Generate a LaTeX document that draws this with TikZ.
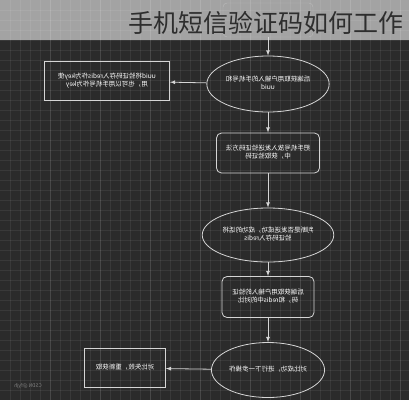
\documentclass[tikz,border=0pt]{standalone}
\usepackage{fontspec}
\setmainfont{Noto Sans CJK SC}
\usetikzlibrary{shapes.geometric}
\definecolor{fond}{HTML}{2B2B2B}
\definecolor{bandeau}{HTML}{A3A3A3}
\definecolor{trait}{HTML}{D6D6D6}
\definecolor{titre}{HTML}{2E2E2E}
\newcommand{\miroir}[1]{\reflectbox{\begin{tabular}{@{}c@{}}#1\end{tabular}}}

\begin{document}
\begin{tikzpicture}[x=1pt,y=-1pt]
  \tikzstyle{lien}=[->,>=latex,draw=trait,line width=0.8pt]
\tikzset{etape/.style={draw=trait,line width=0.8pt,text=white,
font=\fontsize{6.5}{8}\selectfont,inner sep=1pt,minimum width=#1,minimum height=40pt},
etape/.default={100pt},
test/.style={etape=#1,ellipse,minimum height=56pt},
arrondi/.style={etape=#1,rounded corners=5pt}}
\useasboundingbox (0,0) rectangle (409,400);
\fill[bandeau] (0,0) rectangle (409,40);
\fill[fond] (0,40) rectangle (409,400);
\foreach \x in {10,20,...,400} \draw[white,opacity=0.07] (\x,0) -- (\x,400);
\foreach \y in {10,20,...,400} \draw[white,opacity=0.07] (0,\y) -- (409,\y);
\foreach \x in {50,100,...,400} \draw[white,opacity=0.08] (\x,0) -- (\x,400);

\node[draw=bandeau!75!white,rounded corners=4pt,minimum width=90pt,minimum height=34pt] (debut) at (268,20){};
\node[anchor=base west,font=\fontsize{25}{25}\selectfont,text=titre,inner sep=0pt] (titre) at (128,32){手机短信验证码如何工作};

\node[test=110pt] (E1) at (268,84){\miroir{后端获取用户输入的手机号和\\uuid}};
\node[etape=125pt,minimum height=39pt] (R1) at (107,81){\miroir{uuid将验证码存入redis作为key使\\用，也可以用手机号作为key}};
\node[arrondi=103pt] (R2) at (268,153){\miroir{把手机号放入发送验证码方法\\中，获取验证码}};
\node[test=108pt,minimum height=54pt] (E3) at (268,235){\miroir{判断是否发送成功，成功的话将\\验证码存入redis}};
\node[arrondi=92pt,minimum height=41pt] (R4) at (268,297){\miroir{后端获取用户输入的验证\\码，和redis中的对比}};
\node[test=94pt,minimum height=55pt] (E5) at (268,370){\miroir{对比成功，进行下一步操作}};
\node[etape=81pt,minimum height=39pt] (R6) at (125,368){\miroir{对比失败，重新获取}};
\node[text=gray,font=\fontsize{5}{6}\selectfont] (marque) at (28,386){\reflectbox{CSDN @fyjh}};

\draw[lien] (debut) -- (E1);
\draw[lien] (E1) -- (R1);
\draw[lien] (E1) -- (R2);
\draw[lien] (R2) -- (E3);
\draw[lien] (E3) -- (R4);
\draw[lien] (R4) -- (E5);
\draw[lien] (E5) -- (R6);

  \end{tikzpicture}
\end{document}
